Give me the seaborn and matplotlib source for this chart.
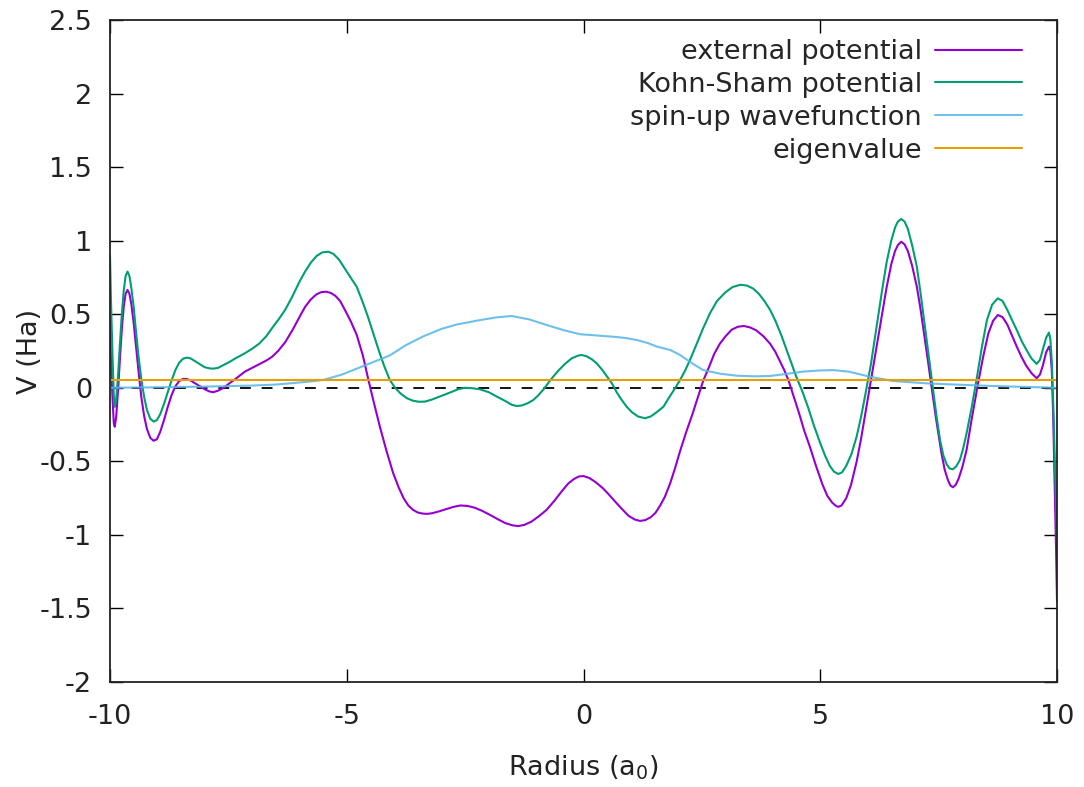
"""
Kohn-Sham DFT summary plot: potentials, wavefunction and eigenvalue vs radius
(gnuplot look-alike done with seaborn/matplotlib)
"""

import matplotlib
matplotlib.use("Agg")
import matplotlib.pyplot as plt
import seaborn as sns

# ---- data ----
ext_x = [-10.0, -9.98, -9.95, -9.92, -9.90, -9.87, -9.83, -9.79, -9.75, -9.71,
         -9.67, -9.63, -9.59, -9.55, -9.50, -9.45, -9.40, -9.34, -9.28, -9.22,
         -9.15, -9.08, -9.01, -8.94, -8.86, -8.78, -8.70, -8.62, -8.54, -8.46,
         -8.38, -8.30, -8.20, -8.10, -8.00, -7.90, -7.82, -7.72, -7.60, -7.48,
         -7.35, -7.15, -7.00, -6.85, -6.70, -6.58, -6.45, -6.30, -6.15, -6.00,
         -5.88, -5.76, -5.64, -5.54, -5.44, -5.34, -5.24, -5.14, -5.04, -4.92,
         -4.79, -4.66, -4.54, -4.42, -4.30, -4.16, -4.02, -3.90, -3.80, -3.70,
         -3.60, -3.50, -3.40, -3.30, -3.20, -3.05, -2.90, -2.75, -2.60, -2.45,
         -2.30, -2.15, -1.97, -1.80, -1.65, -1.50, -1.38, -1.25, -1.10, -0.95,
         -0.78, -0.62, -0.45, -0.32, -0.20, -0.10, 0.00, 0.12, 0.25, 0.40,
         0.52, 0.63, 0.80, 0.95, 1.08, 1.19, 1.30, 1.42, 1.52, 1.62,
         1.72, 1.83, 1.93, 2.04, 2.17, 2.30, 2.42, 2.53, 2.65, 2.76,
         2.88, 3.00, 3.13, 3.26, 3.39, 3.52, 3.65, 3.80, 3.94, 4.05,
         4.15, 4.24, 4.33, 4.44, 4.55, 4.66, 4.78, 4.92, 5.05, 5.15,
         5.25, 5.32, 5.38, 5.45, 5.55, 5.65, 5.77, 5.86, 5.95, 6.07,
         6.19, 6.30, 6.40, 6.50, 6.58, 6.64, 6.71, 6.78, 6.85, 6.94,
         7.04, 7.12, 7.20, 7.28, 7.35, 7.45, 7.56, 7.63, 7.70, 7.75,
         7.80, 7.86, 7.92, 8.00, 8.09, 8.20, 8.32, 8.44, 8.55, 8.65,
         8.75, 8.85, 8.95, 9.05, 9.15, 9.25, 9.35, 9.46, 9.57, 9.64,
         9.70, 9.77, 9.83, 9.86, 9.89, 9.92, 9.95, 9.98, 10.0]
ext_v = [0.45, 0.20, -0.05, -0.24, -0.265, -0.20, -0.02, 0.20, 0.40, 0.55,
         0.64, 0.665, 0.64, 0.57, 0.44, 0.28, 0.12, -0.06, -0.19, -0.28,
         -0.34, -0.36, -0.35, -0.30, -0.22, -0.13, -0.05, 0.01, 0.045, 0.06,
         0.06, 0.05, 0.03, 0.01, -0.01, -0.025, -0.03, -0.02, 0.0, 0.03,
         0.06, 0.11, 0.135, 0.16, 0.185, 0.21, 0.25, 0.31, 0.39, 0.48,
         0.55, 0.60, 0.635, 0.65, 0.653, 0.645, 0.625, 0.59, 0.53, 0.455,
         0.36, 0.22, 0.05, -0.11, -0.265, -0.43, -0.58, -0.68, -0.75, -0.80,
         -0.83, -0.848, -0.855, -0.857, -0.853, -0.84, -0.825, -0.81, -0.80, -0.803,
         -0.815, -0.835, -0.865, -0.895, -0.92, -0.935, -0.94, -0.932, -0.91, -0.875,
         -0.83, -0.77, -0.70, -0.65, -0.62, -0.603, -0.60, -0.613, -0.64, -0.68,
         -0.72, -0.76, -0.82, -0.87, -0.895, -0.905, -0.90, -0.88, -0.85, -0.80,
         -0.74, -0.65, -0.55, -0.43, -0.30, -0.18, -0.06, 0.05, 0.14, 0.23,
         0.30, 0.35, 0.395, 0.415, 0.42, 0.41, 0.39, 0.35, 0.30, 0.245,
         0.18, 0.12, 0.05, -0.06, -0.17, -0.29, -0.40, -0.54, -0.66, -0.735,
         -0.78, -0.80, -0.81, -0.80, -0.75, -0.66, -0.50, -0.35, -0.18, 0.05,
         0.28, 0.49, 0.68, 0.84, 0.93, 0.97, 0.993, 0.975, 0.93, 0.83,
         0.687, 0.53, 0.35, 0.17, 0.007, -0.22, -0.445, -0.56, -0.63, -0.665,
         -0.676, -0.66, -0.62, -0.54, -0.423, -0.21, 0.007, 0.21, 0.37, 0.455,
         0.495, 0.48, 0.43, 0.355, 0.28, 0.21, 0.15, 0.10, 0.065, 0.09,
         0.15, 0.24, 0.28, 0.25, 0.12, -0.20, -0.65, -1.10, -1.45]

ks_x = [-10.0, -9.98, -9.95, -9.92, -9.90, -9.87, -9.83, -9.79, -9.75, -9.71,
        -9.67, -9.63, -9.59, -9.55, -9.50, -9.45, -9.40, -9.34, -9.28, -9.22,
        -9.15, -9.08, -9.01, -8.94, -8.86, -8.78, -8.70, -8.62, -8.54, -8.46,
        -8.38, -8.30, -8.20, -8.10, -8.00, -7.90, -7.82, -7.72, -7.60, -7.48,
        -7.35, -7.15, -7.00, -6.85, -6.70, -6.59, -6.45, -6.30, -6.15, -6.00,
        -5.88, -5.76, -5.64, -5.52, -5.39, -5.28, -5.16, -5.04, -4.92, -4.79,
        -4.66, -4.55, -4.44, -4.32, -4.20, -4.09, -3.98, -3.86, -3.73, -3.60,
        -3.48, -3.35, -3.20, -3.08, -2.96, -2.80, -2.65, -2.50, -2.35, -2.19,
        -2.00, -1.83, -1.65, -1.52, -1.41, -1.30, -1.18, -1.06, -0.95, -0.83,
        -0.71, -0.55, -0.40, -0.25, -0.12, -0.04, 0.06, 0.17, 0.28, 0.40,
        0.50, 0.60, 0.70, 0.80, 0.91, 1.02, 1.15, 1.30, 1.42, 1.55,
        1.69, 1.80, 1.92, 2.04, 2.15, 2.25, 2.38, 2.52, 2.67, 2.82,
        3.00, 3.15, 3.31, 3.45, 3.58, 3.70, 3.82, 3.94, 4.06, 4.18,
        4.29, 4.40, 4.50, 4.61, 4.74, 4.87, 5.00, 5.10, 5.20, 5.29,
        5.38, 5.46, 5.55, 5.66, 5.77, 5.86, 5.95, 6.07, 6.19, 6.30,
        6.40, 6.50, 6.58, 6.64, 6.71, 6.78, 6.85, 6.94, 7.04, 7.12,
        7.20, 7.28, 7.36, 7.45, 7.53, 7.60, 7.67, 7.73, 7.80, 7.87,
        7.95, 8.02, 8.09, 8.20, 8.30, 8.41, 8.52, 8.63, 8.75, 8.85,
        8.95, 9.05, 9.15, 9.25, 9.35, 9.46, 9.57, 9.64, 9.70, 9.77,
        9.83, 9.86, 9.89, 9.92, 9.95, 9.98, 10.0]
ks_v = [0.90, 0.60, 0.25, -0.05, -0.13, -0.08, 0.08, 0.30, 0.50, 0.66,
        0.76, 0.79, 0.76, 0.68, 0.55, 0.38, 0.22, 0.06, -0.06, -0.15,
        -0.21, -0.23, -0.22, -0.18, -0.11, -0.03, 0.05, 0.12, 0.17, 0.197,
        0.205, 0.20, 0.18, 0.16, 0.14, 0.132, 0.13, 0.135, 0.155, 0.175,
        0.20, 0.235, 0.265, 0.30, 0.35, 0.40, 0.46, 0.53, 0.62, 0.72,
        0.79, 0.85, 0.895, 0.92, 0.925, 0.91, 0.87, 0.81, 0.75, 0.687,
        0.58, 0.48, 0.37, 0.25, 0.14, 0.053, 0.0, -0.04, -0.071, -0.088,
        -0.095, -0.094, -0.08, -0.065, -0.05, -0.03, -0.01, 0.0, -0.003, -0.01,
        -0.03, -0.06, -0.09, -0.115, -0.124, -0.12, -0.105, -0.083, -0.05, -0.005,
        0.048, 0.11, 0.16, 0.20, 0.218, 0.223, 0.215, 0.195, 0.166, 0.12,
        0.075, 0.03, -0.03, -0.08, -0.128, -0.165, -0.195, -0.207, -0.195, -0.165,
        -0.128, -0.07, -0.01, 0.053, 0.12, 0.19, 0.29, 0.40, 0.506, 0.59,
        0.65, 0.685, 0.70, 0.695, 0.675, 0.64, 0.59, 0.53, 0.45, 0.355,
        0.257, 0.16, 0.07, -0.015, -0.13, -0.26, -0.377, -0.46, -0.53, -0.57,
        -0.586, -0.575, -0.53, -0.45, -0.33, -0.20, -0.05, 0.16, 0.415, 0.65,
        0.85, 1.00, 1.09, 1.13, 1.147, 1.13, 1.08, 0.97, 0.823, 0.64,
        0.44, 0.24, 0.04, -0.18, -0.355, -0.46, -0.52, -0.548, -0.554, -0.535,
        -0.49, -0.41, -0.31, -0.13, 0.053, 0.27, 0.46, 0.565, 0.608, 0.59,
        0.53, 0.46, 0.393, 0.32, 0.26, 0.20, 0.162, 0.19, 0.26, 0.34,
        0.375, 0.33, 0.18, -0.10, -0.45, -0.80, -1.0]

wf_x = [-10.0, -9.0, -8.0, -7.0, -6.5, -6.2, -5.8, -5.5, -5.1, -4.79,
        -4.4, -4.09, -3.75, -3.38, -3.0, -2.68, -2.19, -1.85, -1.52, -1.15,
        -0.78, -0.4, -0.07, 0.3, 0.63, 0.9, 1.12, 1.35, 1.55, 1.83,
        2.04, 2.3, 2.53, 2.9, 3.24, 3.6, 3.94, 4.3, 4.64, 5.0,
        5.28, 5.6, 6.05, 6.54, 7.25, 8.0, 8.65, 9.3, 10.0]
wf_v = [0.0, 0.003, 0.008, 0.015, 0.022, 0.03, 0.042, 0.053, 0.09, 0.13,
        0.18, 0.22, 0.29, 0.35, 0.40, 0.43, 0.46, 0.478, 0.488, 0.465,
        0.427, 0.39, 0.364, 0.355, 0.347, 0.338, 0.325, 0.305, 0.28, 0.257,
        0.223, 0.165, 0.12, 0.095, 0.082, 0.078, 0.08, 0.095, 0.11, 0.118,
        0.12, 0.11, 0.075, 0.046, 0.03, 0.02, 0.012, 0.006, 0.0]

eig_x = [-10.0, 10.0]
eig_v = [0.05, 0.05]

labels = ["external potential", "Kohn-Sham potential", "spin-up wavefunction", "eigenvalue"]
colors = ["#9400d3", "#009e73", "#56b4e9", "#e69f00"]

x_ticks = [-10, -5, 0, 5, 10]
x_tick_labels = ["-10", "-5", "0", "5", "10"]
y_ticks = [-2, -1.5, -1, -0.5, 0, 0.5, 1, 1.5, 2, 2.5]
y_tick_labels = ["-2", "-1.5", "-1", "-0.5", "0", "0.5", "1", "1.5", "2", "2.5"]

# ---- style ----
sns.set_theme(style="ticks")
plt.rcParams["font.family"] = ["DejaVu Sans"]
plt.rcParams["axes.unicode_minus"] = False
FS = 19.5
TXT = "#222222"

fig = plt.figure(figsize=(10.84, 7.87), dpi=100)
ax = fig.add_axes([110 / 1084, 1 - 682 / 787, 947 / 1084, 662 / 787])

series = [(ext_x, ext_v), (ks_x, ks_v), (wf_x, wf_v), (eig_x, eig_v)]
for (xs, vs), lab, col in zip(series, labels, colors):
    sns.lineplot(x=xs, y=vs, ax=ax, color=col, label=lab, linewidth=1.5,
                 alpha=0.85 if lab.startswith("spin") else 1.0)

# zero reference
ax.axhline(0, color="black", linewidth=1.3, dashes=(6, 6), zorder=1)

ax.set_xlim(-10, 10)
ax.set_ylim(-2, 2.5)
ax.set_xticks(x_ticks, x_tick_labels)
ax.set_yticks(y_ticks, y_tick_labels)
ax.tick_params(axis="both", direction="in", length=9.5, width=1.0, color="black",
               labelsize=FS, labelcolor=TXT, top=True, right=True)
ax.tick_params(axis="x", pad=16)
ax.tick_params(axis="y", pad=13)
for sp in ax.spines.values():
    sp.set_color(TXT)
    sp.set_linewidth(1.3)
    sp.set_visible(True)

ax.set_xlabel("Radius (a$_0$)", fontsize=FS, color=TXT, labelpad=17)
ax.set_ylabel("V (Ha)", fontsize=FS, color=TXT, labelpad=-3)

ax.legend(loc="upper right", bbox_to_anchor=(0.963, 0.971), frameon=False,
          fontsize=FS, markerfirst=False, handlelength=3.2, handletextpad=0.5,
          labelspacing=0.25, borderpad=0, borderaxespad=0)

fig.savefig("out.png", dpi=100)
